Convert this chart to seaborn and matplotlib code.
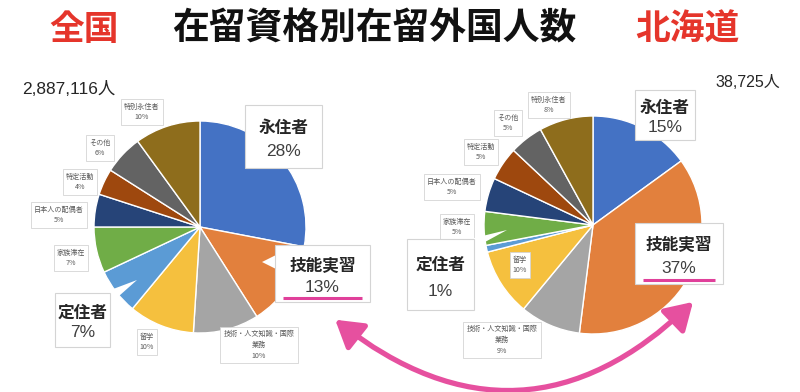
import numpy as np
import pandas as pd
import matplotlib
matplotlib.use('Agg')
import matplotlib.pyplot as plt
import seaborn as sns
from matplotlib.patches import Rectangle, Polygon, FancyArrowPatch

## ============================== ##

categories = ['永住者', '技能実習', '技術・人文知識・国際\n業務', '留学', '定住者',
	'家族滞在', '日本人の配偶者', '特定活動', 'その他', '特別永住者']
zenkoku_pct = [28, 13, 10, 10, 7, 7, 5, 4, 6, 10]
hokkaido_pct = [15, 37, 9, 10, 1, 5, 5, 5, 5, 8]
zenkoku_total = '2,887,116人'
hokkaido_total = '38,725人'

colors = ['#4472C4', '#E2803D', '#A5A5A5', '#F5C03E', '#5B9BD5',
	'#70AD47', '#264478', '#9E480E', '#636363', '#8E6D1C']

## ============================== ##

sns.set_theme(style='white')
plt.rcParams['font.family'] = ['Noto Sans CJK JP', 'DejaVu Sans']
NUMFONT = ['Liberation Sans', 'Noto Sans CJK JP']

W, H = 800, 392
fig = plt.figure(figsize=(8, 3.92), dpi=100)
ax = fig.add_axes([0, 0, 1, 1])

def Y(py):
	return H - py

# pies (pixel layout: center x, center y, radius)
ax.pie(zenkoku_pct, colors=colors, startangle=90, counterclock=False,
	center=(200, Y(227)), radius=106,
	wedgeprops=dict(edgecolor='white', linewidth=1.0))
ax.pie(hokkaido_pct, colors=colors, startangle=90, counterclock=False,
	center=(593, Y(225)), radius=109,
	wedgeprops=dict(edgecolor='white', linewidth=1.0))

## ============================== ##
## small callout labels

small_pos_left = {6: (59, 215), 7: (80, 182), 8: (100, 148), 9: (142, 112),
	5: (71, 258), 3: (147, 342), 2: (259, 345)}
small_pos_right = {6: (452, 187), 7: (481, 152), 8: (508, 123), 9: (549, 105),
	5: (457, 227), 3: (520, 265), 2: (502, 340)}

def small_label(idx, pos, vals):
	ax.text(pos[0], Y(pos[1]), '{0:s}\n{1:d}%'.format(categories[idx], vals[idx]),
		ha='center', va='center', fontsize=5.1, color='#595959', linespacing=1.45,
		bbox=dict(boxstyle='square,pad=0.45', fc='white', ec='#d4d4d4', lw=0.6), zorder=5)

for k, p in small_pos_left.items():
	small_label(k, p, zenkoku_pct)
for k, p in small_pos_right.items():
	small_label(k, p, hokkaido_pct)

## ============================== ##
## big labels (box in pixel coords: x0, y0, x1, y1)

def big_label(idx, vals, box, pointer=None, underline=False):
	x0, y0, x1, y1 = box
	if pointer is not None:
		ax.add_patch(Polygon([(px, Y(py)) for px, py in pointer], closed=True,
			fc='white', ec='none', zorder=6))
	ax.add_patch(Rectangle((x0, Y(y1)), x1 - x0, y1 - y0, fc='white', ec='#d4d4d4',
		lw=0.8, zorder=6))
	cx = (x0 + x1) / 2.
	h = y1 - y0
	ax.text(cx, Y(y0 + h * 0.36), categories[idx], ha='center', va='center',
		fontsize=12, fontweight='bold', color='#262626', zorder=7)
	ax.text(cx, Y(y0 + h * 0.74), '{0:d}%'.format(vals[idx]), ha='center', va='center',
		fontsize=12.5, color='#404040', family=NUMFONT, zorder=7)
	if underline:
		ax.plot([x0 + 8, x1 - 8], [Y(y1 - 4), Y(y1 - 4)], color='#E0409A', lw=2.2,
			solid_capstyle='butt', zorder=8)

# left: 全国
big_label(0, zenkoku_pct, (245, 105, 322, 168))
big_label(1, zenkoku_pct, (275, 245, 370, 302),
	pointer=[(278, 254), (262, 262), (278, 270)], underline=True)
big_label(4, zenkoku_pct, (55, 293, 110, 347),
	pointer=[(100, 294), (137, 280), (110, 304)])

# right: 北海道
big_label(0, hokkaido_pct, (635, 90, 695, 140))
big_label(1, hokkaido_pct, (635, 223, 723, 284), underline=True)
big_label(4, hokkaido_pct, (407, 239, 474, 310),
	pointer=[(466, 240), (507, 230), (474, 248)])

## ============================== ##
## totals and title

ax.text(22, Y(89), zenkoku_total, ha='left', va='center', fontsize=12.5, color='#262626',
	family=NUMFONT)
ax.text(780, Y(82), hokkaido_total, ha='right', va='center', fontsize=11.5, color='#262626',
	family=NUMFONT)

ax.text(84, Y(29), '全国', ha='center', va='center', fontsize=25, fontweight='bold', color='#E5352B')
ax.text(374, Y(29), '在留資格別在留外国人数', ha='center', va='center', fontsize=26.5,
	fontweight='bold', color='#111111')
ax.text(687, Y(29), '北海道', ha='center', va='center', fontsize=25, fontweight='bold', color='#E5352B')

## ============================== ##
## arrow between the two 技能実習 labels

arrow = FancyArrowPatch((333, Y(318)), (695, Y(300)),
	connectionstyle='arc3,rad=0.44',
	arrowstyle='<|-|>,head_length=0.9,head_width=0.55',
	mutation_scale=18, lw=3.8, color='#E6509F', zorder=9)
ax.add_patch(arrow)

ax.set_xlim(0, W)
ax.set_ylim(0, H)
ax.set_aspect('equal')
ax.axis('off')

fig.savefig('out.png', dpi=100, facecolor='white')
